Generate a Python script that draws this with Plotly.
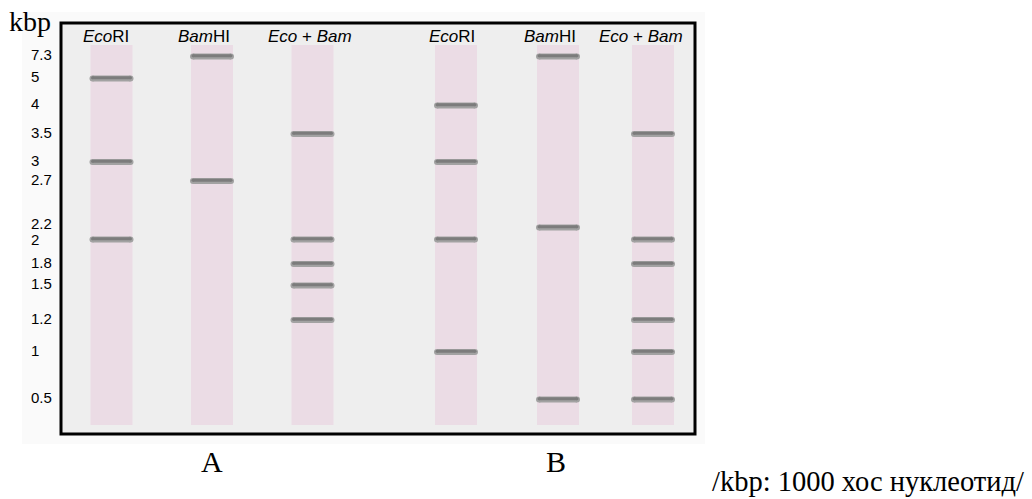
import plotly.graph_objects as go

# ---------------- data ----------------
SIZES_KBP = [7.3, 5, 4, 3.5, 3, 2.7, 2.2, 2, 1.8, 1.5, 1.2, 1, 0.5]
TICK_LABELS = ["7.3", "5", "4", "3.5", "3", "2.7", "2.2", "2", "1.8", "1.5", "1.2", "1", "0.5"]
# relative migration distance from the well for each fragment size (schematic gel calibration)
MIGRATION = [11.5, 33.5, 60.5, 89, 117, 136, 182.5, 194.5, 219, 240.5, 275, 307, 354.5]
LANE_LENGTH = 380

LANE_HEADERS = ["<i>Eco</i>RI", "<i>Bam</i>HI", "<i>Eco</i> + <i>Bam</i>",
                "<i>Eco</i>RI", "<i>Bam</i>HI", "<i>Eco</i> + <i>Bam</i>"]
GROUP_LABELS = ["A", "B"]

BANDS_A_ECORI = [5, 3, 2]
BANDS_A_BAMHI = [7.3, 2.7]
BANDS_A_ECOBAM = [3.5, 2, 1.8, 1.5, 1.2]
BANDS_B_ECORI = [4, 3, 2, 1]
BANDS_B_BAMHI = [7.3, 2.2, 0.5]
BANDS_B_ECOBAM = [3.5, 2, 1.8, 1.2, 1, 0.5]
LANE_BANDS = [BANDS_A_ECORI, BANDS_A_BAMHI, BANDS_A_ECOBAM,
              BANDS_B_ECORI, BANDS_B_BAMHI, BANDS_B_ECOBAM]

FOOTNOTE = "/kbp: 1000 хос нуклеотид/"
AXIS_TITLE = "kbp"

# ---------------- layout constants ----------------
W, H = 1032, 499
PL, PT, PW, PH = 61, 23, 634, 411
LANE_X = [50.5, 151, 251.5, 395, 497, 592]
HEADER_X = [45, 143, 249, 391, 489, 580]
LANE_W = 42
BAND_HALF = 19

SANS = "Liberation Sans, Arial, sans-serif"
SERIF = "Liberation Serif, Times New Roman, serif"


def px_x(px):
    return (px - PL) / PW


def px_y(py):
    return (PT + PH - py) / PH


mig = dict(zip(SIZES_KBP, MIGRATION))

fig = go.Figure()

# lanes
fig.add_trace(go.Bar(
    x=LANE_X, y=[LANE_LENGTH] * len(LANE_X), base=[0] * len(LANE_X),
    width=LANE_W, marker=dict(color="#ebdce5", line=dict(width=0)),
    hoverinfo="skip", showlegend=False))

# bands
bx, by = [], []
for cx, bands in zip(LANE_X, LANE_BANDS):
    for s in bands:
        bx += [cx - BAND_HALF, cx + BAND_HALF, None]
        by += [mig[s], mig[s], None]

fig.add_trace(go.Scatter(
    x=bx, y=by, mode="lines+markers",
    line=dict(color="#a2a2a2", width=6),
    marker=dict(color="#a2a2a2", size=6, line=dict(width=0)),
    hoverinfo="skip", showlegend=False))
fig.add_trace(go.Scatter(
    x=bx, y=[v - 0.8 if v is not None else None for v in by], mode="lines+markers",
    line=dict(color="#7c7c7c", width=3),
    marker=dict(color="#7c7c7c", size=3, line=dict(width=0)),
    hoverinfo="skip", showlegend=False))

shapes = [
    dict(type="rect", xref="paper", yref="paper",
         x0=px_x(22), x1=px_x(705), y0=px_y(444), y1=px_y(12),
         fillcolor="#fafafa", line=dict(width=0), layer="below"),
    dict(type="rect", xref="paper", yref="paper", x0=0, x1=1, y0=0, y1=1,
         fillcolor="#eeeeee", line=dict(color="black", width=3), layer="below"),
]

ann = []
for lbl, m in zip(TICK_LABELS, MIGRATION):
    shift = 2
    if lbl == "2.2":
        shift = 4
    elif lbl == "2":
        shift = 0
    ann.append(dict(x=px_x(29), xref="paper", y=m, yref="y", text=lbl,
                    xanchor="left", yanchor="middle", showarrow=False, yshift=shift,
                    font=dict(family=SANS, size=15, color="black")))
for hx, txt in zip(HEADER_X, LANE_HEADERS):
    ann.append(dict(x=hx, xref="x", y=px_y(37), yref="paper", text=txt,
                    xanchor="center", yanchor="middle", showarrow=False,
                    font=dict(family=SANS, size=17, color="black")))
ann.append(dict(x=px_x(7), xref="paper", y=px_y(22), yref="paper", text=AXIS_TITLE,
                xanchor="left", yanchor="middle", showarrow=False,
                font=dict(family=SERIF, size=28, color="black")))
ann.append(dict(x=LANE_X[1], xref="x", y=px_y(461), yref="paper", text=GROUP_LABELS[0],
                xanchor="center", yanchor="middle", showarrow=False,
                font=dict(family=SERIF, size=30, color="black")))
ann.append(dict(x=px_x(556), xref="paper", y=px_y(461), yref="paper", text=GROUP_LABELS[1],
                xanchor="center", yanchor="middle", showarrow=False,
                font=dict(family=SERIF, size=30, color="black")))
ann.append(dict(x=px_x(710), xref="paper", y=px_y(481), yref="paper", text=FOOTNOTE,
                xanchor="left", yanchor="middle", showarrow=False,
                font=dict(family=SERIF, size=28.5, color="black")))

fig.update_layout(
    width=W, height=H,
    margin=dict(l=PL, r=W - PL - PW, t=PT, b=H - PT - PH, pad=0),
    paper_bgcolor="white", plot_bgcolor="rgba(0,0,0,0)",
    barmode="overlay", showlegend=False,
    xaxis=dict(range=[0, PW], visible=False, fixedrange=True),
    yaxis=dict(range=[PH - 22, -22], visible=False, fixedrange=True),
    shapes=shapes, annotations=ann,
)

fig.write_html("out.html", config={"displayModeBar": False})
